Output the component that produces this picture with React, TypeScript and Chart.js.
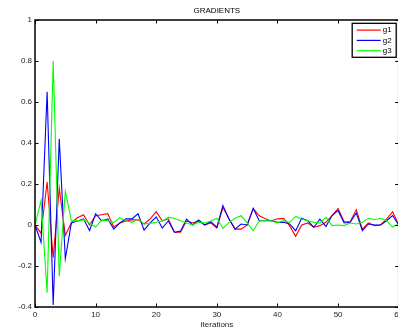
import React, { useEffect, useRef } from "react";
import { Chart, registerables } from "chart.js";

Chart.register(...registerables);

const iterations = [
  0, 1, 2, 3, 4, 5, 6, 7, 8, 9, 10, 11, 12, 13, 14, 15, 16, 17, 18, 19, 20,
  21, 22, 23, 24, 25, 26, 27, 28, 29, 30, 31, 32, 33, 34, 35, 36, 37, 38, 39, 40,
  41, 42, 43, 44, 45, 46, 47, 48, 49, 50, 51, 52, 53, 54, 55, 56, 57, 58, 59, 60,
];

const g1 = [
  0, -0.04, 0.21, -0.16, 0.18, -0.05, 0.01, 0.035, 0.05, 0.0, 0.045,
  0.05, 0.055, -0.01, 0.01, 0.02, 0.025, 0.025, 0.005, 0.03, 0.065,
  0.02, 0.03, -0.035, -0.035, 0.02, 0.01, 0.02, 0.0, 0.01, -0.015,
  0.085, 0.03, -0.02, -0.02, 0.0, 0.08, 0.045, 0.03, 0.02, 0.03,
  0.032, -0.003, -0.055, 0.0, 0.01, -0.011, -0.003, 0.013, 0.046, 0.08,
  0.016, 0.016, 0.075, -0.02, 0.01, -0.003, 0.0, 0.029, 0.065, 0.0,
];

const g2 = [
  0, -0.085, 0.65, -0.39, 0.42, -0.165, 0.01, 0.02, 0.03, -0.027, 0.055,
  0.02, 0.03, -0.02, 0.01, 0.03, 0.03, 0.055, -0.025, 0.01, 0.04,
  -0.015, 0.02, -0.035, -0.03, 0.029, 0.0, 0.025, 0.0, 0.016, -0.011,
  0.095, 0.029, -0.02, 0.005, 0.0, 0.081, 0.021, 0.021, 0.021, 0.013,
  0.013, 0.005, -0.028, 0.033, 0.021, -0.011, 0.029, -0.007, 0.046, 0.07,
  0.01, 0.013, 0.059, -0.028, 0.005, 0.0, 0.0, 0.021, 0.046, 0.0,
];

const g3 = [
  0, 0.12, -0.33, 0.8, -0.25, 0.165, 0.02, 0.02, 0.025, 0.01, -0.01,
  0.025, 0.02, 0.013, 0.035, 0.021, 0.013, 0.029, 0.005, 0.008, 0.013,
  0.02, 0.037, 0.033, 0.021, 0.01, 0.0, 0.013, 0.01, 0.02, 0.033,
  -0.016, 0.013, 0.033, 0.045, 0.01, -0.028, 0.021, 0.021, 0.021, 0.01,
  0.021, 0.013, 0.042, 0.029, 0.021, 0.013, 0.01, 0.037, -0.003, 0.0,
  -0.003, 0.01, 0.005, 0.013, 0.033, 0.026, 0.033, 0.021, -0.01, 0.005,
];

const seriesNames = ["g1", "g2", "g3"];
const seriesColors = ["#ff0000", "#0000ff", "#00ff00"];
const seriesValues = [g1, g2, g3];

const FONT = "'Liberation Sans', Arial, Helvetica, sans-serif";

const framePlugin = {
  id: "matlabFrame",
  afterDatasetsDraw(chart: any) {
    const { ctx, chartArea: a, scales } = chart;
    const xs = scales.x;
    const ys = scales.y;
    ctx.save();
    ctx.strokeStyle = "#000";
    ctx.lineWidth = 1;
    ctx.beginPath();
    xs.ticks.forEach((t: any) => {
      const px = Math.round(xs.getPixelForValue(t.value)) + 0.5;
      ctx.moveTo(px, a.bottom);
      ctx.lineTo(px, a.bottom - 3.5);
      ctx.moveTo(px, a.top);
      ctx.lineTo(px, a.top + 3.5);
    });
    ys.ticks.forEach((t: any) => {
      const py = Math.round(ys.getPixelForValue(t.value)) + 0.5;
      ctx.moveTo(a.left, py);
      ctx.lineTo(a.left + 3.5, py);
      ctx.moveTo(a.right, py);
      ctx.lineTo(a.right - 3.5, py);
    });
    ctx.stroke();
    ctx.lineWidth = 1.5;
    ctx.strokeRect(a.left, a.top, a.right - a.left, a.bottom - a.top);

    // legend box
    const bw = 44;
    const bh = 34;
    const bx = a.right - 46.5;
    const by = a.top + 3.3;
    ctx.fillStyle = "#fff";
    ctx.fillRect(bx, by, bw, bh);
    ctx.lineWidth = 1.3;
    ctx.strokeRect(bx, by, bw, bh);
    ctx.font = `8px ${FONT}`;
    ctx.textBaseline = "middle";
    ctx.textAlign = "left";
    chart.data.datasets.forEach((ds: any, i: number) => {
      const ly = by + 6.8 + i * 10.3;
      ctx.strokeStyle = ds.borderColor;
      ctx.lineWidth = 1.2;
      ctx.beginPath();
      ctx.moveTo(bx + 4.5, ly);
      ctx.lineTo(bx + 28.5, ly);
      ctx.stroke();
      ctx.fillStyle = "#000";
      ctx.fillText(ds.label, bx + 30.5, ly);
    });
    ctx.restore();
  },
};

const noPad = (s: any) => {
  s.paddingLeft = 0;
  s.paddingRight = 0;
  s.paddingTop = 0;
  s.paddingBottom = 0;
};

export default function App() {
  const ref = useRef<HTMLCanvasElement | null>(null);

  useEffect(() => {
    if (!ref.current) return;
    const datasets = seriesValues.map((vals, si) => ({
      label: seriesNames[si],
      data: iterations.map((it, i) => ({ x: it, y: vals[i] })),
      borderColor: seriesColors[si],
      backgroundColor: seriesColors[si],
      borderWidth: 1.1,
      pointRadius: 0,
      tension: 0,
      fill: false,
      order: seriesValues.length - si,
    }));
    const chart = new Chart(ref.current, {
      type: "line",
      data: { datasets },
      options: {
        animation: false,
        responsive: false,
        maintainAspectRatio: false,
        layout: { padding: { left: 0, right: 1.3, top: 0, bottom: 0 } },
        plugins: {
          legend: { display: false },
          title: { display: false },
          tooltip: { enabled: false },
        },
        scales: {
          x: {
            type: "linear",
            position: "bottom",
            min: 0,
            max: 60,
            grid: { display: false, drawTicks: false },
            border: { display: false },
            ticks: {
              stepSize: 10,
              padding: 3,
              color: "#222",
              font: { family: FONT, size: 8 },
              maxRotation: 0,
              autoSkip: false,
            },
            title: {
              display: true,
              text: "Iterations",
              color: "#222",
              font: { family: FONT, size: 8 },
              padding: { top: 0, bottom: 0.5 },
            },
            afterFit: (s: any) => {
              s.height = 23;
              noPad(s);
            },
          },
          xTop: {
            type: "linear",
            position: "top",
            min: 0,
            max: 60,
            grid: { display: false, drawTicks: false },
            border: { display: false },
            ticks: { display: false },
            title: {
              display: true,
              text: "GRADIENTS",
              color: "#000",
              font: { family: FONT, size: 8 },
              padding: { top: 6.2, bottom: 0 },
            },
            afterFit: (s: any) => {
              s.height = 20;
              noPad(s);
            },
          },
          y: {
            type: "linear",
            min: -0.4,
            max: 1,
            grid: { display: false, drawTicks: false },
            border: { display: false },
            ticks: {
              stepSize: 0.2,
              padding: 3,
              color: "#222",
              font: { family: FONT, size: 8 },
              callback: (v: any) => String(Math.round(Number(v) * 10) / 10),
            },
            afterFit: (s: any) => {
              s.width = 35;
              noPad(s);
            },
          },
        },
      },
      plugins: [framePlugin],
    });
    return () => chart.destroy();
  }, []);

  return (
    <div
      style={{
        position: "fixed",
        left: 0,
        top: 0,
        width: 398,
        height: 330,
        overflow: "hidden",
        background: "#fff",
      }}
    >
      <canvas ref={ref} width={400} height={330} style={{ width: 400, height: 330, display: "block" }} />
    </div>
  );
}
